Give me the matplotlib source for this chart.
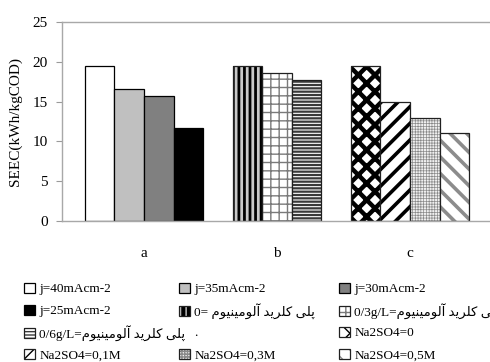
import matplotlib
matplotlib.use("Agg")
import matplotlib.pyplot as plt
from matplotlib.patches import Patch

# SEEC values per experiment group
groups = ["a", "b", "c"]
seec_a = [19.5, 16.6, 15.7, 11.7]   # current density series
seec_b = [19.5, 18.6, 17.7]         # PAC dose series
seec_c = [19.5, 15.0, 13.0, 11.1]   # Na2SO4 series
yticks = [0, 5, 10, 15, 20, 25]

# matplotlib does no Arabic shaping / bidi, so the phrase is written with
# presentation forms and in visual (left-to-right) order
w_poly = "\uFB58\uFEE0\uFBFD"
w_chloride = "\uFB90\uFEE0\uFEAE\uFBFE\uFEAA"
w_aluminium = "\uFE81\uFEDF\uFEEE\uFEE3\uFBFF\uFEE8\uFBFF\uFEEE\uFEE1"
pac = " ".join(w[::-1] for w in [w_aluminium, w_chloride, w_poly])

labels_a = ["j=40mAcm-2", "j=35mAcm-2", "j=30mAcm-2", "j=25mAcm-2"]
labels_b = ["0= " + pac, "0/3g/L=" + pac, "0/6g/L=" + pac]
labels_c = ["Na2SO4=0", "Na2SO4=0,1M", "Na2SO4=0,3M", "Na2SO4=0,5M"]

# (face, hatch colour, hatch)
styles_a = [("white", None, None), ("#c0c0c0", None, None),
            ("#808080", None, None), ("black", None, None)]
styles_b = [("black", "#c8c8c8", "|||"), ("white", "#7a7a7a", "++"),
            ("white", "#3a3a3a", "-----")]
styles_c = [("white", "black", "xx"), ("white", "black", "//"),
            ("#f0f0f0", "#8a8a8a", "++++++"), ("white", "#8c8c8c", "\\\\")]

fonts = ["Liberation Serif", "DejaVu Sans"]
plt.rcParams["font.family"] = fonts

fig = plt.figure(figsize=(4.9, 3.62), dpi=100)
ax = fig.add_axes([62 / 490, 141 / 362, 428 / 490, 199 / 362])

width = 0.222
handles = {}


def draw_group(gi, values, styles, labels, hatch_lw):
    n = len(values)
    for k, (v, (face, hcol, hatch), lab) in enumerate(zip(values, styles, labels)):
        x = gi + (k - (n - 1) / 2) * width
        if hatch is None:
            b = ax.bar(x, v, width, color=face, edgecolor="black", linewidth=0.9)
            handles[lab] = b[0]
        else:
            with plt.rc_context({"hatch.linewidth": hatch_lw[k]}):
                fill = ax.bar(x, v, width, color=face, edgecolor=hcol,
                              hatch=hatch, linewidth=0)
            if hasattr(fill[0], "set_hatch_linewidth"):
                fill[0].set_hatch_linewidth(hatch_lw[k])
            edge = ax.bar(x, v, width, fill=False, edgecolor="#202020",
                          linewidth=0.9)
            handles[lab] = (fill[0], edge[0])


draw_group(0, seec_a, styles_a, labels_a, [0, 0, 0, 0])
draw_group(1, seec_b, styles_b, labels_b, [2.0, 1.0, 1.6])
draw_group(2, seec_c, styles_c, labels_c, [3.2, 2.6, 0.5, 2.6])

ax.set_xlim(-(144 - 62) / 133, (490 - 144) / 133)
ax.set_ylim(0, 25)
ax.set_yticks(yticks)
ax.set_yticklabels([str(t) for t in yticks], fontsize=11)
ax.set_xticks(range(len(groups)))
ax.set_xticklabels(groups, fontsize=11)
ax.tick_params(axis="x", length=0, pad=19)
ax.tick_params(axis="y", length=4, color="#9a9a9a", pad=6)
for side in ["left", "bottom", "top"]:
    ax.spines[side].set_color("#a8a8a8")
    ax.spines[side].set_linewidth(1.0)
ax.spines["right"].set_visible(False)
ax.set_ylabel("SEEC(kWh/kgCOD)", fontsize=11, labelpad=8)

# legend laid out as a 4 x 3 grid, one small legend per entry so the
# rows stay evenly spaced and long labels may run into the next column
blank = Patch(facecolor="none", edgecolor="none")
columns = [
    [labels_a[0], labels_a[3], labels_b[2], labels_c[1]],
    [labels_a[1], labels_b[0], ".", labels_c[2]],
    [labels_a[2], labels_b[1], labels_c[0], labels_c[3]],
]
col_x = [24 / 490, 179 / 490, 339 / 490]
row_y = [289, 311, 333, 355]
for cx, col in zip(col_x, columns):
    for ry, lab in zip(row_y, col):
        fig.legend([handles.get(lab, blank)], [lab], loc="center left",
                   bbox_to_anchor=(cx, 1 - ry / 362), frameon=False,
                   handlelength=0.8, handleheight=0.8, handletextpad=0.35,
                   borderpad=0, borderaxespad=0,
                   prop={"family": fonts, "size": 9.5})

fig.savefig("out.png", dpi=100)
